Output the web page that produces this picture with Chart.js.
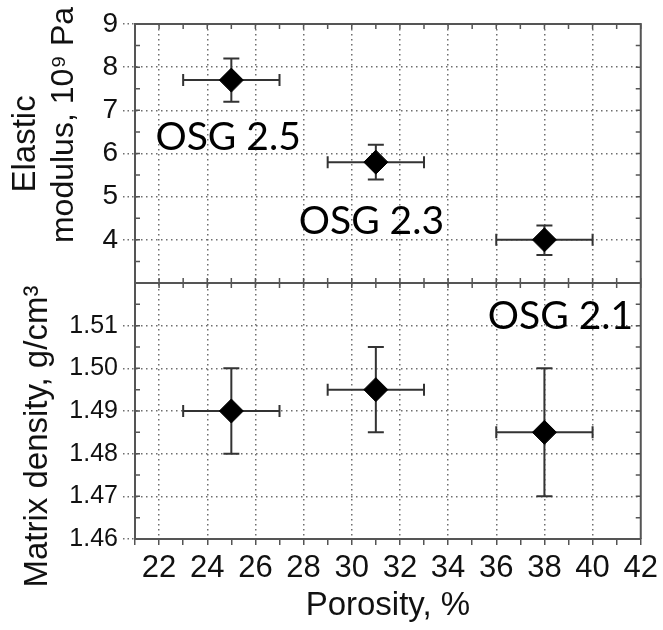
<!DOCTYPE html>
<html>
<head>
<meta charset="utf-8">
<script src="https://cdn.jsdelivr.net/npm/chart.js@4.4.1/dist/chart.umd.min.js"></script>
<style>
  html, body { margin: 0; padding: 0; background: #fff; }
</style>
</head>
<body>
<canvas id="chart" width="663" height="630"></canvas>
<script>
// data
const porosity = [25, 31, 38];
const porosityErr = [2, 2, 2];

const modulus = [7.7, 5.8, 4.0];
const modulusLow = [7.2, 5.4, 3.65];
const modulusHigh = [8.2, 6.2, 4.33];

const density = [1.490, 1.495, 1.485];
const densityLow = [1.480, 1.485, 1.470];
const densityHigh = [1.500, 1.505, 1.500];

const groupNames = ["OSG 2.5", "OSG 2.3", "OSG 2.1"];
// where each name sits, in data units (left edge, baseline)
const namePorosity = [21.85, 27.8, 35.65];
const nameValue = [6.07, 4.14, 1.5093];
const nameAxis = ["yTop", "yTop", "yBot"];

const AXIS = "#555";
const GRID = "#6e6e6e";
const SANS = "'Liberation Sans', Arial, sans-serif";

const panels = [
  { axis: "yTop", values: modulus, low: modulusLow, high: modulusHigh },
  { axis: "yBot", values: density, low: densityLow, high: densityHigh }
];

// error bars under the diamonds
const errorBars = {
  id: "errorBars",
  beforeDatasetsDraw(chart) {
    const { ctx, scales } = chart;
    const xs = scales.x;
    ctx.save();
    ctx.strokeStyle = "#333";
    ctx.lineWidth = 2;
    panels.forEach(p => {
      const ys = scales[p.axis];
      porosity.forEach((v, i) => {
        const cx = xs.getPixelForValue(v);
        const cy = ys.getPixelForValue(p.values[i]);
        const x0 = xs.getPixelForValue(v - porosityErr[i]);
        const x1 = xs.getPixelForValue(v + porosityErr[i]);
        const y0 = ys.getPixelForValue(p.low[i]);
        const y1 = ys.getPixelForValue(p.high[i]);
        ctx.beginPath();
        ctx.moveTo(x0, cy); ctx.lineTo(x1, cy);
        ctx.moveTo(x0, cy - 6); ctx.lineTo(x0, cy + 6);
        ctx.moveTo(x1, cy - 6); ctx.lineTo(x1, cy + 6);
        ctx.moveTo(cx, y0); ctx.lineTo(cx, y1);
        ctx.moveTo(cx - 8, y0); ctx.lineTo(cx + 8, y0);
        ctx.moveTo(cx - 8, y1); ctx.lineTo(cx + 8, y1);
        ctx.stroke();
      });
    });
    ctx.restore();
  }
};

// frame, divider, inner minor ticks, group names, y titles
const decor = {
  id: "decor",
  afterDraw(chart) {
    const { ctx, chartArea: a, scales } = chart;
    const mid = scales.yTop.bottom;
    ctx.save();
    ctx.strokeStyle = AXIS;
    ctx.lineWidth = 2;
    ctx.beginPath();
    ctx.moveTo(a.left, a.top); ctx.lineTo(a.right, a.top); ctx.lineTo(a.right, a.bottom);
    ctx.moveTo(a.left, mid); ctx.lineTo(a.right, mid);
    ctx.stroke();

    ctx.lineWidth = 1.5;
    ctx.beginPath();
    scales.x.ticks.forEach(t => {
      const px = scales.x.getPixelForValue(t.value);
      ctx.moveTo(px, a.top); ctx.lineTo(px, a.top + 5);
      ctx.moveTo(px, mid - 5); ctx.lineTo(px, mid + 5);
    });
    ["yTop", "yBot"].forEach(id => {
      scales[id].ticks.forEach(t => {
        const py = scales[id].getPixelForValue(t.value);
        ctx.moveTo(a.left, py); ctx.lineTo(a.left + 5, py);
        ctx.moveTo(a.right, py); ctx.lineTo(a.right - 5, py);
      });
    });
    ctx.stroke();

    ctx.fillStyle = "#000";
    ctx.font = "39px Lato, 'Open Sans', sans-serif";
    ctx.textAlign = "left";
    ctx.textBaseline = "alphabetic";
    groupNames.forEach((name, i) => {
      ctx.fillText(name, scales.x.getPixelForValue(namePorosity[i]),
        scales[nameAxis[i]].getPixelForValue(nameValue[i]));
    });

    const top = scales.yTop, bot = scales.yBot;
    ctx.fillStyle = "#111";
    ctx.textAlign = "center";
    ctx.textBaseline = "middle";
    const vtext = (txt, size, x, y) => {
      ctx.save();
      ctx.font = size + "px " + SANS;
      ctx.translate(x, y);
      ctx.rotate(-Math.PI / 2);
      ctx.fillText(txt, 0, 0);
      ctx.restore();
    };
    vtext("Elastic", 33, 26, top.top + (top.bottom - top.top) * 0.463);
    vtext("modulus, 10\u2079 Pa", 32, 64, top.top + (top.bottom - top.top) * 0.39);
    vtext("Matrix density, g/cm\u00B3", 33, 38, bot.top + (bot.bottom - bot.top) * 0.6);
    ctx.restore();
  }
};

const isInt = v => Math.abs(v - Math.round(v)) < 1e-6;

new Chart(document.getElementById("chart"), {
  type: "scatter",
  data: {
    datasets: [
      {
        data: porosity.map((x, i) => ({ x, y: modulus[i] })),
        yAxisID: "yTop",
        pointStyle: "rectRot",
        pointRadius: 12,
        backgroundColor: "#000",
        borderColor: "#000"
      },
      {
        data: porosity.map((x, i) => ({ x, y: density[i] })),
        yAxisID: "yBot",
        pointStyle: "rectRot",
        pointRadius: 12,
        backgroundColor: "#000",
        borderColor: "#000"
      }
    ]
  },
  options: {
    responsive: false,
    animation: false,
    layout: { padding: { top: 24, right: 20, left: 0, bottom: 0 } },
    plugins: { legend: { display: false }, tooltip: { enabled: false } },
    scales: {
      x: {
        type: "linear",
        min: 21,
        max: 42,
        afterFit: s => { s.height = 91; },
        ticks: {
          stepSize: 1,
          autoSkip: false,
          maxRotation: 0,
          padding: 5,
          color: "#111",
          font: { family: SANS, size: 31 },
          callback: v => (v % 2 === 0 ? v : "")
        },
        grid: {
          color: c => (c.tick && c.tick.value % 2 === 0 && c.tick.value < 42 ? GRID : "transparent"),
          lineWidth: 1.5,
          tickColor: AXIS,
          tickLength: 6,
          tickBorderDash: []
        },
        border: { color: AXIS, width: 2, dash: [1.5, 3.5] },
        title: {
          display: true,
          text: "Porosity, %",
          color: "#111",
          font: { family: SANS, size: 33 },
          padding: { top: 0, bottom: 4 }
        }
      },
      yBot: {
        type: "linear",
        position: "left",
        stack: "panels",
        stackWeight: 256,
        min: 1.46,
        max: 1.52,
        afterFit: s => { s.width = 135; },
        ticks: {
          stepSize: 0.005,
          autoSkip: false,
          padding: 5,
          color: "#111",
          font: { family: SANS, size: 25 },
          callback: v => {
            const k = Math.round(v * 200);
            return k % 2 === 0 && k < 304 ? v.toFixed(2) : "";
          }
        },
        grid: {
          color: c => {
            const k = c.tick ? Math.round(c.tick.value * 200) : 0;
            return k % 2 === 0 && k > 292 && k < 304 ? GRID : "transparent";
          },
          lineWidth: 1.5,
          tickColor: c => {
            const k = c.tick ? Math.round(c.tick.value * 200) : 1;
            return k % 2 === 0 && k < 304 ? GRID : "transparent";
          },
          tickLength: 12,
          tickBorderDash: [1.5, 3]
        },
        border: { color: AXIS, width: 2, dash: [1.5, 3.5] }
      },
      yTop: {
        type: "linear",
        position: "left",
        stack: "panels",
        stackWeight: 259,
        min: 3,
        max: 9,
        afterFit: s => { s.width = 135; },
        ticks: {
          stepSize: 0.5,
          autoSkip: false,
          padding: 5,
          color: "#111",
          font: { family: SANS, size: 28 },
          callback: v => (isInt(v) && v > 3 ? String(Math.round(v)) : "")
        },
        grid: {
          color: c => (c.tick && isInt(c.tick.value) && c.tick.value > 3 && c.tick.value < 9 ? GRID : "transparent"),
          lineWidth: 1.5,
          tickColor: c => (c.tick && isInt(c.tick.value) && c.tick.value > 3 ? GRID : "transparent"),
          tickLength: 12,
          tickBorderDash: [1.5, 3]
        },
        border: { color: AXIS, width: 2, dash: [1.5, 3.5] }
      }
    }
  },
  plugins: [errorBars, decor]
});
</script>
</body>
</html>
